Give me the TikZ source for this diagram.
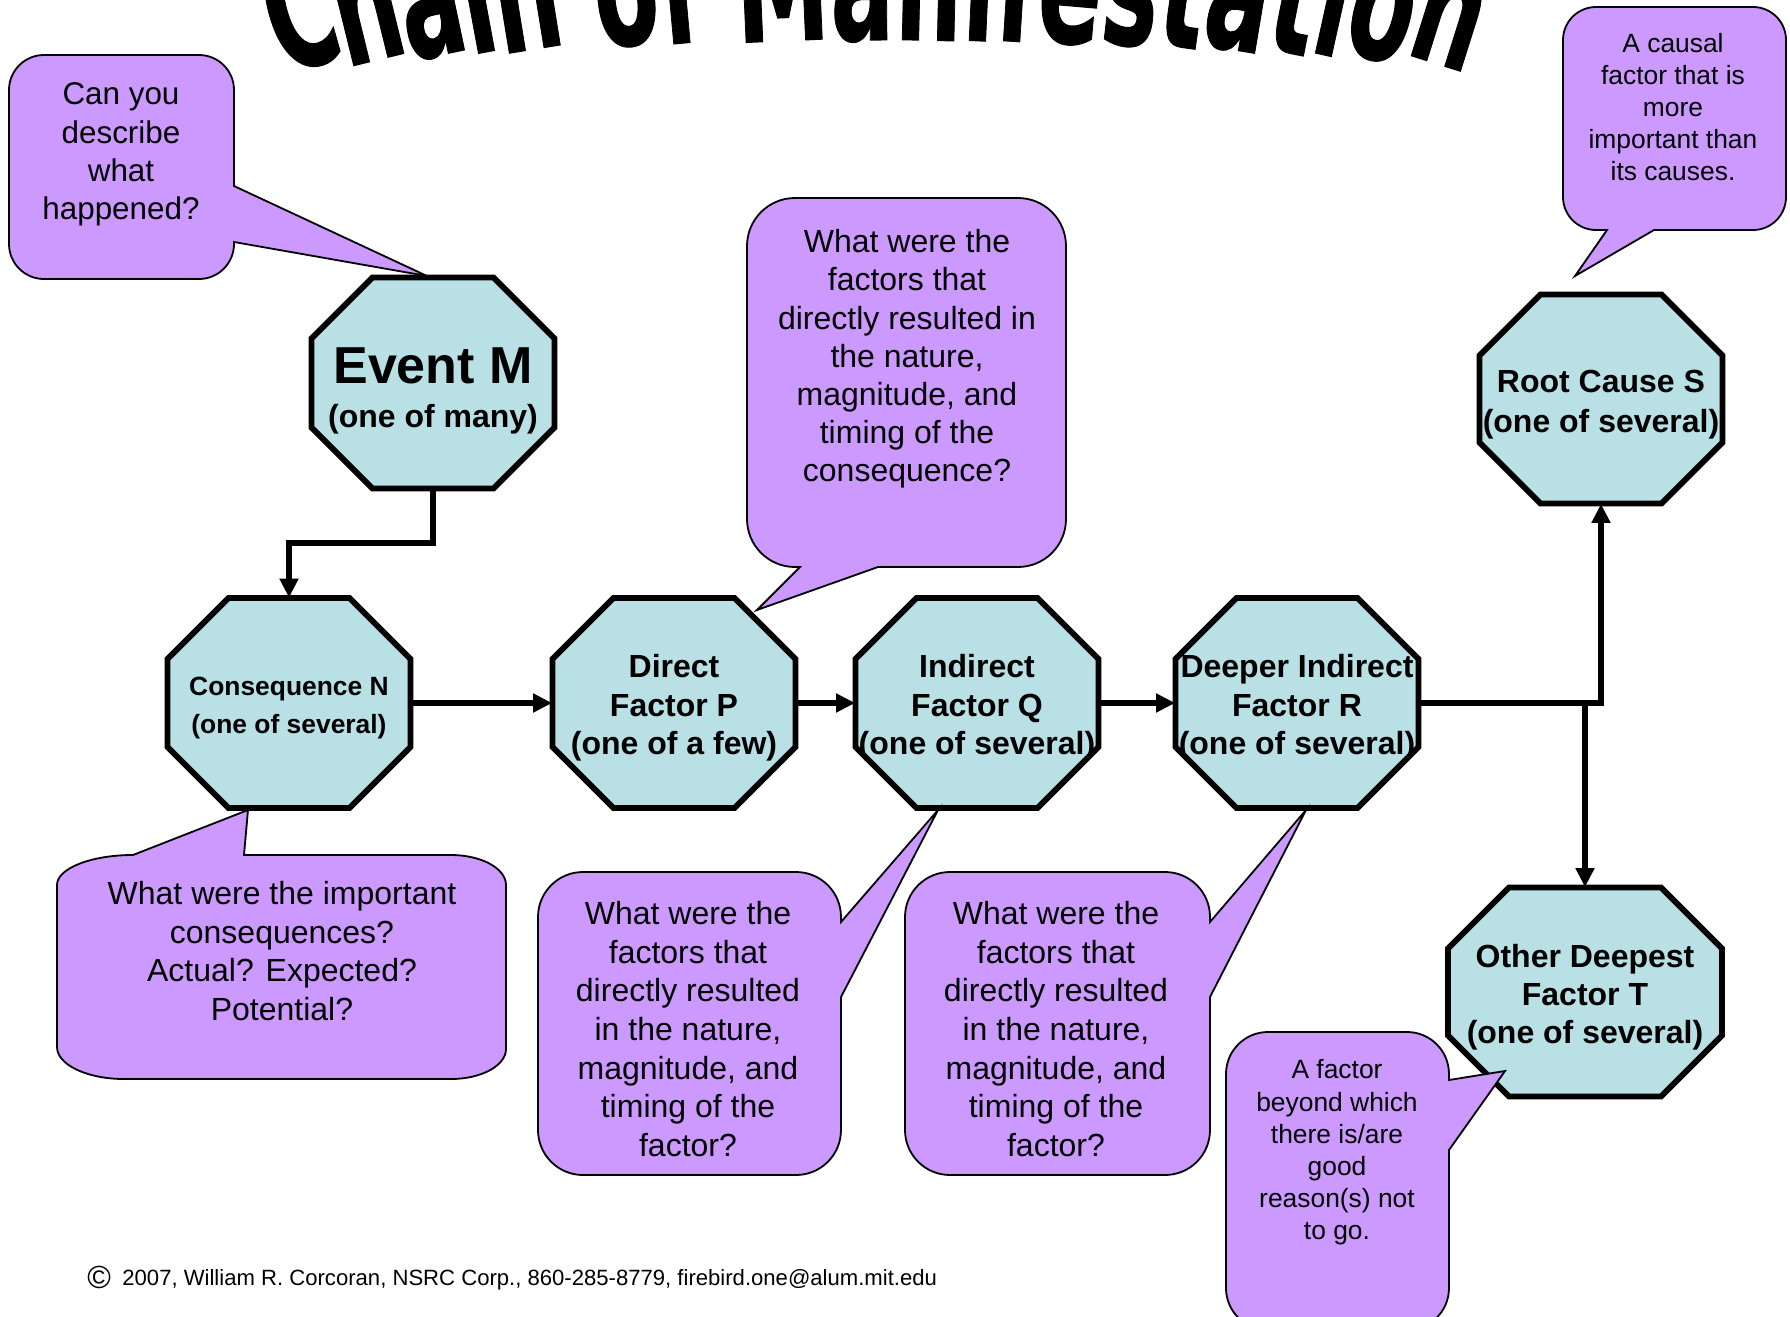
\documentclass[tikz,border=0pt]{standalone}
\usepackage{fontspec}
\setmainfont{Liberation Sans}
\newfontfamily\titlefam{DejaVu Sans}[BoldFeatures={FakeBold=0.8}]
\usetikzlibrary{arrows.meta}
\definecolor{octfill}{RGB}{185,224,228}
\definecolor{callfill}{RGB}{204,153,255}

% #1 text options, #2 name, #3 x, #4 y (downwards), #5 width, #6 height, #7 text, #8 text shift down
\newcommand\octagon[8]{%
  \pgfmathsetmacro\ohw{#5/2}%
  \pgfmathsetmacro\ohh{#6/2}%
  \filldraw[octline] ({#3-\ohw+61},{-#4+\ohh}) -- ({#3+\ohw-61},{-#4+\ohh}) -- ({#3+\ohw},{-#4+\ohh-61}) -- ({#3+\ohw},{-#4-\ohh+61}) -- ({#3+\ohw-61},{-#4-\ohh}) -- ({#3-\ohw+61},{-#4-\ohh}) -- ({#3-\ohw},{-#4-\ohh+61}) -- ({#3-\ohw},{-#4+\ohh-61}) -- cycle;
  \node[octbox, minimum width={#5*0.5pt}, minimum height={#6*0.5pt}] (#2) at (#3,-#4) {};
  \node[octnode, #1] (#2text) at (#3,{-#4-#8}) {#7};
}

\begin{document}
\begin{tikzpicture}[x=0.5pt,y=0.5pt,
  octline/.style={draw=black, fill=octfill, line width=2.9pt, line join=miter},
  octbox/.style={inner sep=0pt, draw=none},
  octnode/.style={inner sep=0pt, align=center, font=\bfseries\fontsize{16}{19.3}\selectfont},
  conn/.style={line width=2.6pt, line join=miter, -{Triangle[length=9.5pt,width=9pt]}},
  callout/.style={draw=black, fill=callfill, line width=0.9pt, line join=miter},
  ctext/.style={inner sep=0pt, align=center, font=\fontsize{16}{18.9}\selectfont},
  csmall/.style={inner sep=0pt, align=center, font=\fontsize{13.2}{16.1}\selectfont},
  titlech/.style={inner sep=0pt, anchor=base, yscale=1.75, font=\titlefam\bfseries\fontsize{47}{47}\selectfont}
]
\useasboundingbox (0,0) rectangle (1790,-1317);
\clip (0,0) rectangle (1790,-1317);

% ---------- title (arched) ----------
\foreach \ch/\xx/\yy/\rr [count=\i] in {C/314.5/65.0/15.8, h/378.5/59.5/13.8, a/440.7/54.8/11.9, i/486.5/51.8/10.5, n/534.5/49.0/9.2, o/631.5/44.6/6.6, f/684.2/42.9/5.2, M/784.2/40.7/2.5, a/862.6/40.0/0.5, n/927.8/40.2/-1.3, i/977.4/40.7/-2.6, f/1013.9/41.3/-3.6, e/1066.3/42.6/-4.9, s/1126.1/44.5/-6.5, t/1176.5/46.6/-7.9, a/1230.7/49.2/-9.5, t/1284.9/52.3/-11.2, i/1323.4/54.7/-12.5, o/1370.8/58.1/-14.5, n/1435.6/63.3/-17.5}
  \node[rotate=\rr, titlech] (title\i) at (\xx,-\yy) {\ch};

% ---------- octagons ----------
\octagon{font=\bfseries\fontsize{16}{22}\selectfont}{m}{433}{383}{243}{211}{{\fontsize{26}{26}\selectfont Event M}\\(one of many)}{8}
\octagon{font=\bfseries\fontsize{13.2}{19}\selectfont}{n}{289}{703}{243}{210}{Consequence N\\(one of several)}{5}
\octagon{}{p}{674}{703}{243}{210}{Direct\\Factor P\\(one of a few)}{5}
\octagon{}{q}{977}{703}{243}{210}{Indirect\\Factor Q\\(one of several)}{5}
\octagon{}{r}{1297}{703}{243}{210}{Deeper Indirect\\Factor R\\(one of several)}{5}
\octagon{font=\bfseries\fontsize{16}{20}\selectfont}{s}{1601}{399}{243}{209}{Root Cause S\\(one of several)}{6}
\octagon{font=\bfseries\fontsize{16}{18.9}\selectfont}{t}{1585}{992}{274}{209}{Other Deepest\\Factor T\\(one of several)}{5}

% ---------- connectors ----------
\draw[conn] (m.south) -- ++(0,-54) -| (n.north);
\draw[conn] (n.east) -- (p.west);
\draw[conn] (p.east) -- (q.west);
\draw[conn] (q.east) -- (r.west);
\draw[conn] (r.east) -| (s.south);
\draw[conn] (r.east -| t.north) -- (t.north);

% ---------- callouts ----------
% top left
\draw[callout] (44,-55) -- (199,-55) arc[start angle=90,end angle=0,radius=35] -- (234,-186) -- (427,-276) -- (234,-242) -- (234,-244) arc[start angle=0,end angle=-90,radius=35] -- (44,-279) arc[start angle=-90,end angle=-180,radius=35] -- (9,-90) arc[start angle=180,end angle=90,radius=35] -- cycle;
% top middle
\draw[callout] (795,-198) -- (1018,-198) arc[start angle=90,end angle=0,radius=48] -- (1066,-519) arc[start angle=0,end angle=-90,radius=48] -- (878,-567) -- (757,-610) -- (800,-567) -- (795,-567) arc[start angle=-90,end angle=-180,radius=48] -- (747,-246) arc[start angle=180,end angle=90,radius=48] -- cycle;
% top right
\draw[callout] (1596,-7) -- (1753,-7) arc[start angle=90,end angle=0,radius=33] -- (1786,-197) arc[start angle=0,end angle=-90,radius=33] -- (1654,-230) -- (1575,-276) -- (1607,-230) -- (1596,-230) arc[start angle=-90,end angle=-180,radius=33] -- (1563,-40) arc[start angle=180,end angle=90,radius=33] -- cycle;
% bottom left
\draw[callout] (133,-855) -- (248,-810) -- (244,-855) -- (451,-855) arc[start angle=90,end angle=0,x radius=55,y radius=30] -- (506,-1049) arc[start angle=0,end angle=-90,x radius=55,y radius=30] -- (124,-1079) arc[start angle=-90,end angle=-180,x radius=67,y radius=32] -- (57,-885) arc[start angle=180,end angle=90,x radius=76,y radius=30] -- cycle;
% under P
\draw[callout] (583,-872) -- (796,-872) arc[start angle=90,end angle=0,radius=45] -- (841,-922) -- (938,-810) -- (841,-997) -- (841,-1130) arc[start angle=0,end angle=-90,radius=45] -- (583,-1175) arc[start angle=-90,end angle=-180,radius=45] -- (538,-917) arc[start angle=180,end angle=90,radius=45] -- cycle;
% under Q
\draw[callout] (950,-872) -- (1165,-872) arc[start angle=90,end angle=0,radius=45] -- (1210,-922) -- (1306,-810) -- (1210,-997) -- (1210,-1130) arc[start angle=0,end angle=-90,radius=45] -- (950,-1175) arc[start angle=-90,end angle=-180,radius=45] -- (905,-917) arc[start angle=180,end angle=90,radius=45] -- cycle;
% bottom right
\draw[callout] (1268,-1032) -- (1407,-1032) arc[start angle=90,end angle=0,radius=42] -- (1449,-1080) -- (1505,-1071) -- (1449,-1150) -- (1449,-1288) arc[start angle=0,end angle=-90,radius=42] -- (1268,-1330) arc[start angle=-90,end angle=-180,radius=42] -- (1226,-1074) arc[start angle=180,end angle=90,radius=42] -- cycle;

% ---------- callout texts ----------
\node[ctext, font=\fontsize{15.7}{19.2}\selectfont] (q1) at (121,-154.5) {Can you\\describe\\what\\happened?};
\node[ctext, font=\fontsize{16}{19.1}\selectfont] (q2) at (907,-359) {What were the\\factors that\\directly resulted in\\the nature,\\magnitude, and\\timing of the\\consequence?};
\node[csmall] (q3) at (1673,-107) {A causal\\factor that is\\more\\important than\\its causes.};
\node[ctext, font=\fontsize{16}{19.2}\selectfont] (q4) at (282,-951) {What were the important\\consequences?\\Actual? Expected?\\Potential?};
\node[ctext, font=\fontsize{16}{19.35}\selectfont] (q5) at (688,-1029) {What were the\\factors that\\directly resulted\\in the nature,\\magnitude, and\\timing of the\\factor?};
\node[ctext, font=\fontsize{16}{19.35}\selectfont] (q6) at (1056,-1029) {What were the\\factors that\\directly resulted\\in the nature,\\magnitude, and\\timing of the\\factor?};
\node[csmall] (q7) at (1337,-1152.5) {A factor\\beyond which\\there is/are\\good\\reason(s) not\\to go.};

% ---------- footer ----------
\node[inner sep=0pt, anchor=west, font=\fontsize{16}{16}\selectfont] (copy) at (87,-1277) {\textcopyright};
\node[inner sep=0pt, anchor=west, font=\fontsize{11.05}{12}\selectfont] (foot) at (122,-1280) {2007, William R. Corcoran, NSRC Corp., 860-285-8779, firebird.one@alum.mit.edu};
\end{tikzpicture}
\end{document}
